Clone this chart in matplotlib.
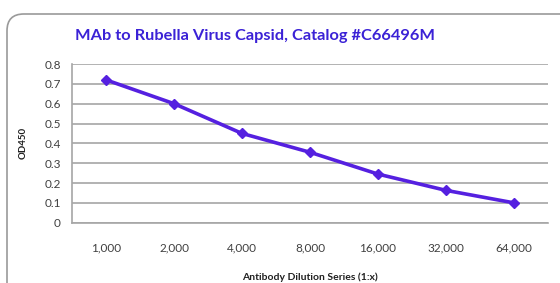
import matplotlib
matplotlib.use("Agg")
import matplotlib.pyplot as plt
from matplotlib.patches import FancyBboxPatch

categories = ["1,000", "2,000", "4,000", "8,000", "16,000", "32,000", "64,000"]
od450 = [0.72, 0.60, 0.45, 0.355, 0.245, 0.163, 0.10]
yticks = [0, 0.1, 0.2, 0.3, 0.4, 0.5, 0.6, 0.7, 0.8]
ytick_labels = ["0", "0.1", "0.2", "0.3", "0.4", "0.5", "0.6", "0.7", "0.8"]

plt.rcParams['font.family'] = ['Lato', 'DejaVu Sans']

W, H = 560, 283
fig = plt.figure(figsize=(W / 100, H / 100), dpi=100)

# outer chart border (rounded, extends past right/bottom edges)
box = FancyBboxPatch((7 / W, -20 / H), 600 / W, (H - 14 + 20) / H,
                     boxstyle="round,pad=0,rounding_size=0.03",
                     transform=fig.transFigure, fill=False,
                     edgecolor="#9a9a9a", linewidth=1.2, mutation_aspect=W / H)
fig.patches.append(box)

ax = fig.add_axes([72 / W, 1 - 222.7 / H, (548 - 72) / W, (222.7 - 64) / H])
x = list(range(len(categories)))
ax.plot(x, od450, color="#5520e0", linewidth=2.6, marker="D", markersize=5.5,
        markerfacecolor="#5520e0", markeredgecolor="#5520e0")
ax.set_xlim(-0.5, len(categories) - 0.5)
ax.set_ylim(0, 0.8)
ax.set_yticks(yticks)
ax.set_yticklabels(ytick_labels)
ax.set_xticks(x)
ax.set_xticklabels(categories)
ax.grid(axis="y", color="#a6a6a6", linewidth=1.2)
ax.set_axisbelow(True)
for s in ["top", "right"]:
    ax.spines[s].set_visible(False)
for s in ["left", "bottom"]:
    ax.spines[s].set_color("#a6a6a6")
    ax.spines[s].set_linewidth(1.2)
ax.tick_params(axis="both", length=0, labelsize=8.5, colors="#404040")
ax.tick_params(axis="y", pad=8)
ax.tick_params(axis="x", pad=14)

ax.set_ylabel("OD450", fontsize=7, fontweight="bold", color="#202020", labelpad=12)
ax.set_xlabel("Antibody Dilution Series (1:x)", fontsize=7.5, fontweight="bold",
              color="#202020", labelpad=14)

fig.text(255 / W, 1 - 36 / H, "MAb to Rubella Virus Capsid, Catalog #C66496M",
         ha="center", va="center", fontsize=11.8, fontweight="bold", color="#3b22d6")

fig.savefig("out.png", dpi=100)
